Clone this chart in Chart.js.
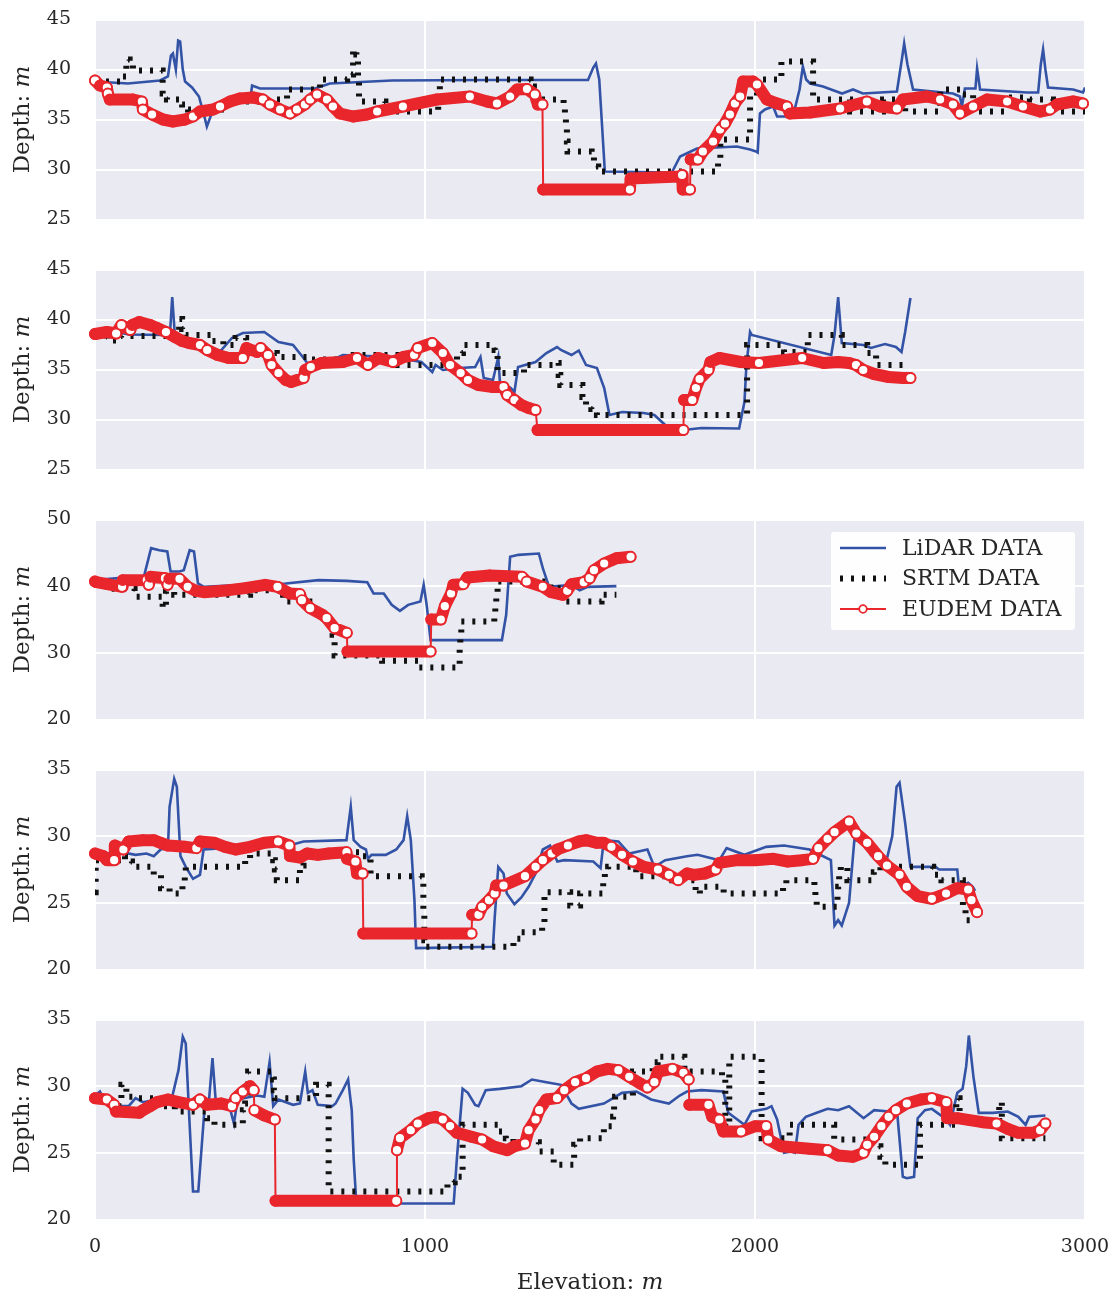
<!DOCTYPE html>
<html><head><meta charset="utf-8">
<script src="https://cdn.jsdelivr.net/npm/chart.js@4.4.1/dist/chart.umd.min.js"></script>
<style>
html,body{margin:0;padding:0;background:#fff;}
#wrap{position:relative;width:1115px;height:1298px;overflow:hidden;}
.panel{position:absolute;left:0;width:1115px;}
canvas{display:block;}
</style></head><body>
<div id="wrap"></div>
<script>
const seriesNames = ['LiDAR DATA', 'SRTM DATA', 'EUDEM DATA'];
const xTicks = [0, 1000, 2000, 3000];
const yMin = [25, 25, 20, 20, 20];
const yMax = [45, 45, 50, 35, 35];
const yStep = [5, 5, 10, 5, 5];
const xTitle = ['Elevation: ', 'm'];
const yTitle = ['Depth: ', 'm'];

// ---- subplot 1 ----
const lidar1 = [[0,38.8],[100,38.6],[197,38.9],[221,39.3],[230,41.4],[236,41.6],[245,40],[252,42.9],[258,42.8],[266,40],[273,38.8],[294,38.2],[315,37.3],[330,35.5],[339,34.3],[358,36],[400,36.8],[440,37],[470,36.8],[476,38.4],[500,38.1],[667,38.1],[712,38.6],[900,38.9],[1200,38.95],[1494,38.95],[1510,40.2],[1518,40.6],[1528,39],[1545,29.8],[1748,29.7],[1773,31.3],[1824,32.1],[1945,32.3],[1985,32],[2003,31.8],[2008,31.7],[2015,35.6],[2030,36],[2055,36.3],[2067,35.3],[2115,35.3],[2135,38],[2145,40.3],[2155,39],[2167,38.6],[2206,38.3],[2264,37.6],[2297,38],[2327,37.6],[2430,37.8],[2445,41],[2452,42.6],[2462,40.5],[2479,38],[2600,37.6],[2621,37.3],[2627,36.3],[2636,38.1],[2668,38.1],[2673,40.1],[2682,38],[2824,37.7],[2858,37.7],[2866,40.5],[2873,42],[2880,40],[2888,38.2],[2964,38],[2994,37.7],[3000,38.2]];
const srtm1 = [[0,38.8],[80,39.3],[95,41],[105,40.5],[115,39.9],[205,37.6],[218,37],[264,36.5],[282,36],[400,36.8],[539,37],[582,38],[682,39],[764,39.5],[782,42],[792,41.5],[797,39.2],[800,36.8],[880,35.8],[1040,37.8],[1045,39],[1320,38.3],[1330,37],[1420,36],[1424,35],[1427,34],[1430,32.8],[1432,31.8],[1505,31.3],[1512,30.3],[1525,29.8],[1888,31],[1895,33],[1985,37.3],[2006,39],[2080,40.8],[2176,37],[2288,35.8],[2388,37],[2455,35.8],[2561,38],[2627,37.5],[2661,35.8],[2764,37.2],[2833,37],[2903,35.8],[3000,35.8]];
const eudem1 = [[0,38.9],[15,38.4],[36,38.2],[39,37.6],[45,37],[115,37],[142,36.8],[145,36],[173,35.5],[206,35],[236,34.8],[273,35],[297,35.3],[318,35.8],[358,36],[379,36.3],[409,36.8],[439,37.1],[479,37.2],[509,37],[530,36.5],[561,36],[591,35.6],[612,36],[636,36.5],[652,37],[673,37.5],[703,37],[721,36.3],[742,35.6],[782,35.3],[824,35.5],[855,35.8],[933,36.3],[1036,37],[1136,37.3],[1188,36.8],[1218,36.6],[1258,37.3],[1279,38],[1309,38.05],[1333,37.5],[1342,36.5],[1356,36.5],[1358,28],[1621,28],[1623,29.1],[1770,29.3],[1779,29.45],[1781,28],[1803,28],[1805,31],[1827,31],[1842,31.8],[1873,32.8],[1894,34],[1909,34.6],[1924,35.5],[1939,36.6],[1955,37.3],[1964,38.8],[1994,38.8],[2006,38.5],[2036,37],[2067,36.6],[2097,36.3],[2106,35.6],[2167,35.7],[2258,36.1],[2339,36.8],[2379,36.3],[2430,36.1],[2448,37],[2521,37.3],[2561,37],[2600,36.5],[2621,35.6],[2661,36.3],[2703,37],[2764,36.8],[2812,36.3],[2864,35.8],[2894,36],[2915,36.5],[2964,36.8],[2994,36.6]];

// ---- subplot 2 ----
const lidar2 = [[0,38.65],[69,38.75],[102,38.5],[210,38.45],[228,39],[234,42.25],[242,38.45],[275,38.25],[318,37.15],[340,36.65],[362,36.45],[383,36.95],[415,38.15],[448,38.65],[513,38.75],[556,37.75],[600,37.45],[632,36.15],[643,35.65],[690,35.5],[751,36.45],[903,36.25],[989,35.75],[1022,34.75],[1032,35.45],[1054,34.95],[1108,35.15],[1152,35.25],[1168,36.25],[1178,34.15],[1206,33.95],[1222,36.25],[1227,33.75],[1260,33.15],[1271,32.75],[1282,35.25],[1335,35.75],[1368,36.65],[1400,37.25],[1412,36.95],[1444,36.45],[1466,36.9],[1488,35.45],[1521,35.15],[1543,33.15],[1559,30.45],[1597,30.75],[1663,30.65],[1695,30.45],[1728,29.45],[1783,28.95],[1838,29.15],[1952,29.1],[1968,31.75],[1974,35.45],[1985,38.75],[1990,38.45],[2231,36.45],[2241,38.45],[2252,42.25],[2263,37.65],[2329,37.45],[2351,37.15],[2394,37.55],[2427,37.25],[2444,36.75],[2455,38.75],[2471,42.15]];
const srtm2 = [[0,38.3],[36,37.9],[79,38.35],[255,40.05],[264,39.05],[275,38.45],[355,37.85],[389,37.45],[426,38.15],[458,36.65],[551,36.25],[650,36],[784,36.45],[915,35.45],[1097,36.65],[1115,37.45],[1211,36.95],[1220,34.65],[1300,35.45],[1400,35.65],[1405,34.45],[1410,33.45],[1477,32.25],[1488,31.45],[1504,31.05],[1521,30.45],[1974,30.45],[1976,37.45],[2088,36.75],[2160,38.45],[2263,37.45],[2340,36.65],[2367,35.45],[2471,35.45]];
const eudem2 = [[0,38.55],[36,38.75],[64,38.6],[80,39.45],[107,38.95],[113,39.45],[134,39.75],[167,39.45],[188,39.15],[215,38.75],[242,38.25],[264,37.85],[285,37.65],[318,37.45],[340,36.95],[372,36.45],[405,36.15],[448,36.15],[459,37.15],[491,36.75],[502,37.15],[524,36.45],[535,35.45],[556,34.65],[578,33.95],[594,33.75],[632,34.15],[637,34.95],[654,35.25],[686,35.65],[751,35.75],[794,36.15],[827,35.45],[859,36.15],[903,35.75],[935,36.25],[967,36.45],[978,37.15],[1022,37.65],[1054,36.65],[1076,35.45],[1108,34.65],[1130,33.95],[1162,33.45],[1206,33.25],[1238,33.25],[1249,32.45],[1271,31.95],[1292,31.45],[1314,31.15],[1335,30.95],[1341,28.95],[1783,28.95],[1785,31.95],[1810,31.95],[1821,33.15],[1832,34.05],[1859,34.95],[1865,35.75],[1892,36.15],[1957,35.75],[2012,35.65],[2143,36.15],[2208,35.65],[2252,35.75],[2285,35.65],[2306,35.45],[2328,34.95],[2361,34.55],[2405,34.25],[2449,34.15],[2471,34.15]];

// ---- subplot 3 ----
const lidar3 = [[0,40.9],[70,41.2],[120,40.8],[145,40.8],[170,45.7],[195,45.4],[219,45.2],[229,42.2],[256,42.2],[269,42.4],[287,45.4],[300,45.2],[312,40.4],[330,39.9],[455,40.2],[578,40.4],[677,40.9],[763,40.8],[825,40.6],[844,38.9],[875,38.9],[899,37.2],[924,36.3],[949,37.2],[986,37.7],[996,40.2],[1005,37.2],[1017,31.9],[1233,31.9],[1246,35.7],[1258,44.4],[1283,44.7],[1345,44.9],[1357,42.7],[1376,39.9],[1444,40.2],[1469,39.4],[1493,39.9],[1580,40.0]];
const srtm3 = [[0,40.4],[30,39.6],[120,38.4],[205,36.7],[215,39.2],[240,38.7],[470,39.4],[570,37.7],[665,35.9],[700,34.7],[720,32.7],[726,29.6],[870,28.8],[980,27.8],[1100,28.2],[1105,31.2],[1107,33],[1110,34.7],[1210,35.7],[1213,37.4],[1216,38.9],[1220,40.7],[1380,39.7],[1420,37.7],[1535,38.7],[1580,38.7]];
const eudem3 = [[0,40.7],[4,40.6],[37,40.3],[82,39.9],[84,40.9],[157,40.9],[163,40.2],[168,41.4],[212,41.2],[220,40.2],[225,41.1],[256,41.1],[281,39.9],[306,39.3],[330,39.1],[405,39.4],[455,39.7],[516,40.2],[553,39.9],[590,38.9],[621,38.8],[627,37.9],[652,36.7],[689,35.7],[702,35.2],[726,33.7],[763,33.0],[765,30.2],[1017,30.2],[1019,35],[1048,35],[1060,37],[1079,38.9],[1086,40.2],[1116,40.3],[1128,41.3],[1196,41.6],[1294,41.4],[1308,40.7],[1357,39.9],[1382,39.1],[1418,38.7],[1431,39.3],[1444,40.3],[1481,40.6],[1499,41.2],[1512,42.4],[1543,43.4],[1580,44.2],[1623,44.4]];

// ---- subplot 4 ----
const lidar4 = [[0,28.5],[36,28.7],[80,28.8],[123,28.6],[156,28.7],[178,28.5],[199,29.0],[221,29.1],[226,32.2],[240,34.3],[248,33.7],[259,28.5],[275,27.7],[297,26.8],[318,27.1],[329,29.0],[450,29.2],[588,29.3],[632,29.6],[762,29.7],[775,32.2],[784,29.7],[805,29.2],[821,29.0],[827,28.3],[838,28.6],[881,28.6],[913,29.0],[935,29.7],[946,31.5],[957,29.7],[968,25.2],[973,21.6],[1206,21.7],[1211,23.8],[1222,27.7],[1238,27.2],[1248,25.7],[1271,24.9],[1292,25.4],[1314,26.2],[1335,27.2],[1357,29.0],[1379,29.3],[1401,28.1],[1422,28.2],[1510,28.1],[1532,27.6],[1542,29.7],[1586,29.6],[1619,28.7],[1674,29.0],[1695,27.7],[1728,28.2],[1794,28.5],[1826,28.6],[1892,28.2],[1914,29.1],[1968,28.6],[2034,29.2],[2088,29.3],[2165,29.0],[2230,28.2],[2241,23.3],[2252,23.7],[2263,23.3],[2285,25.0],[2301,29.7],[2329,29.6],[2351,28.6],[2394,27.7],[2416,30.0],[2429,33.7],[2438,34.0],[2455,31.0],[2471,27.7],[2547,27.7],[2558,27.5],[2613,27.5],[2618,26.2],[2646,26.5],[2660,26.2],[2667,25.9]];
const srtm4 = [[0,25.8],[2,28.2],[80,28.5],[91,28.1],[112,27.7],[178,27.1],[200,26.1],[226,25.7],[265,26.3],[272,27.1],[275,27.7],[455,28.2],[470,28.7],[540,28.2],[545,27.5],[551,26.7],[621,27.8],[632,28.5],[686,28.8],[800,28.5],[835,27.0],[990,26.5],[995,24.5],[998,22.2],[1000,21.7],[1268,22.3],[1290,22.8],[1355,23.5],[1362,25.8],[1440,24.8],[1470,25.7],[1540,26.6],[1545,27.3],[1555,27.7],[1640,27],[1735,26.7],[1820,25.7],[1833,26.2],[1905,25.7],[2085,26.2],[2095,26.7],[2180,26.2],[2183,25.5],[2187,24.7],[2250,25.5],[2252,26.2],[2255,27.1],[2260,27.7],[2280,26.7],[2360,27.3],[2380,27.7],[2540,27.1],[2565,26.7],[2630,24.5],[2638,23.7],[2668,23.7]];
const eudem4 = [[0,28.7],[26,28.5],[36,28.2],[58,28.2],[60,29.3],[86,29.0],[102,29.6],[145,29.7],[178,29.7],[199,29.5],[221,29.3],[275,29.2],[307,29.1],[318,29.6],[362,29.5],[394,29.2],[426,29.0],[470,29.2],[513,29.5],[555,29.6],[589,29.3],[591,28.5],[621,28.4],[643,28.7],[675,28.6],[708,28.7],[762,28.8],[764,28.3],[789,28.1],[794,27.2],[811,27.2],[813,22.7],[1141,22.7],[1143,24.1],[1162,24.1],[1173,24.7],[1194,25.2],[1211,25.7],[1216,26.3],[1238,26.3],[1303,27.0],[1335,27.7],[1357,28.2],[1384,28.7],[1401,29.0],[1433,29.3],[1466,29.6],[1488,29.7],[1521,29.5],[1542,29.5],[1565,29.2],[1597,28.6],[1630,28.1],[1663,27.7],[1706,27.5],[1739,27.1],[1767,26.7],[1794,27.2],[1815,27.1],[1848,27.2],[1881,27.5],[1892,28.0],[1946,28.2],[2001,28.2],[2056,28.3],[2099,28.1],[2143,28.2],[2176,28.3],[2192,29.1],[2220,29.8],[2241,30.3],[2285,31.1],[2307,30.2],[2340,29.5],[2373,28.5],[2400,27.8],[2438,27.1],[2460,26.2],[2493,25.5],[2536,25.3],[2579,25.7],[2613,26.1],[2646,26.0],[2656,25.2],[2673,24.3]];

// ---- subplot 5 ----
const lidar5 = [[0,29.3],[15,29.6],[26,29.0],[58,28.7],[80,28.5],[102,28.5],[123,29.1],[145,28.8],[188,29.0],[232,29.0],[253,31.2],[266,33.7],[275,33.2],[286,27.5],[297,22.1],[313,22.1],[324,25.7],[334,29.0],[345,28.8],[356,32.1],[367,28.5],[405,28.7],[421,27.2],[432,29.0],[491,29.3],[513,29.2],[529,31.8],[540,28.5],[556,29.0],[600,28.6],[621,28.7],[637,31.1],[645,29.5],[659,29.7],[675,28.6],[719,28.5],[729,28.7],[751,29.7],[767,30.5],[778,28.2],[784,24.5],[792,21.2],[1087,21.2],[1097,24.7],[1114,29.8],[1130,29.5],[1152,28.6],[1162,28.5],[1184,29.7],[1227,29.8],[1292,30.0],[1324,30.5],[1368,30.3],[1412,30.1],[1444,28.7],[1466,28.3],[1542,28.7],[1597,29.5],[1641,29.6],[1685,29.0],[1739,28.7],[1772,29.3],[1794,29.6],[1838,29.7],[1904,29.6],[1919,28.0],[1968,27.1],[1990,28.1],[2034,28.3],[2050,28.5],[2067,27.5],[2088,25.0],[2110,25.1],[2121,25.0],[2132,27.1],[2154,27.7],[2187,28.0],[2220,28.3],[2252,28.2],[2285,28.5],[2329,27.6],[2361,28.2],[2405,28.1],[2432,27.7],[2448,23.2],[2460,23.1],[2482,23.2],[2493,27.6],[2515,28.2],[2536,28.3],[2580,27.5],[2591,27.1],[2613,29.5],[2629,29.8],[2640,31.5],[2648,33.8],[2662,30.7],[2678,28.0],[2721,28.0],[2766,28.1],[2798,27.7],[2820,27.1],[2831,27.7],[2880,27.8]];
const srtm5 = [[0,29.2],[26,29.0],[50,28.5],[80,30.1],[95,29.2],[125,29.1],[190,28.5],[242,28.1],[340,27.6],[362,27.1],[448,28.2],[455,28.7],[464,31.1],[540,30.5],[542,29.7],[545,29.1],[670,30.1],[708,22.1],[1068,22.8],[1090,23.2],[1114,27.1],[1222,26.6],[1245,26.1],[1268,25.6],[1300,25.8],[1345,25.1],[1390,24.1],[1452,25.6],[1470,26.1],[1542,27.0],[1570,27.7],[1573,28.5],[1576,29.2],[1630,31.1],[1690,31.8],[1705,32.2],[1786,31.3],[1800,31.1],[1900,30.8],[1910,27.0],[1922,32.2],[2020,26.1],[2105,27.1],[2240,26.0],[2370,25.5],[2380,24.7],[2395,24.1],[2500,27.1],[2610,29.1],[2620,27.3],[2740,28.8],[2748,26.1],[2880,26.1]];
const eudem5 = [[0,29.1],[36,29.0],[58,28.6],[64,28.1],[134,28.0],[145,28.2],[167,28.5],[188,28.8],[221,29.0],[253,28.8],[297,28.6],[318,29.0],[340,28.6],[383,28.7],[415,28.5],[426,29.1],[448,29.6],[470,30.0],[481,29.7],[483,28.2],[513,27.8],[545,27.5],[547,21.4],[913,21.4],[915,25.2],[924,26.1],[957,26.7],[978,27.2],[1011,27.6],[1032,27.7],[1054,27.5],[1076,27.0],[1097,26.5],[1141,26.2],[1173,26.0],[1206,25.5],[1249,25.2],[1271,25.5],[1303,25.7],[1314,26.7],[1335,27.5],[1346,28.2],[1368,29.0],[1400,29.1],[1422,29.7],[1455,30.3],[1488,30.6],[1521,31.1],[1554,31.3],[1586,31.2],[1619,30.7],[1652,30.2],[1674,29.9],[1695,30.3],[1706,31.1],[1750,31.3],[1783,31.0],[1799,30.5],[1801,28.6],[1859,28.6],[1870,27.7],[1892,27.5],[1904,26.6],[1958,26.6],[2001,27.0],[2034,27.0],[2040,26.0],[2078,25.5],[2165,25.3],[2220,25.2],[2252,24.8],[2296,24.7],[2329,25.0],[2340,25.6],[2361,26.2],[2383,27.0],[2405,27.7],[2427,28.2],[2460,28.7],[2503,29.0],[2536,29.1],[2580,28.8],[2582,27.6],[2613,27.6],[2689,27.3],[2732,27.2],[2766,26.8],[2798,26.5],[2842,26.5],[2864,26.7],[2880,27.2]];

const lidarSets = [lidar1, lidar2, lidar3, lidar4, lidar5];
const srtmSets = [srtm1, srtm2, srtm3, srtm4, srtm5];
const eudemSets = [eudem1, eudem2, eudem3, eudem4, eudem5];

const RED = '#e8262c', BLUE = '#3353a6', BLACK = '#111111', TXT = '#262626';
const FONT = '"DejaVu Serif", "Liberation Serif", serif';

function toXY(a) { return a.map(p => ({ x: p[0], y: p[1] })); }

const bgPlugin = {
  id: 'bg',
  beforeDraw(c) {
    const a = c.chartArea, ctx = c.ctx;
    ctx.save(); ctx.fillStyle = '#eaeaf2';
    ctx.fillRect(a.left, a.top, a.right - a.left, a.bottom - a.top);
    ctx.restore();
  }
};

function drawParts(ctx, parts, cx, cy, rot) {
  ctx.save(); ctx.translate(cx, cy); if (rot) ctx.rotate(-Math.PI / 2);
  let w = 0;
  parts.forEach(p => { ctx.font = p.f; w += ctx.measureText(p.t).width; });
  let x = -w / 2;
  ctx.textBaseline = 'middle'; ctx.textAlign = 'left'; ctx.fillStyle = TXT;
  parts.forEach(p => { ctx.font = p.f; ctx.fillText(p.t, x, 0); x += ctx.measureText(p.t).width; });
  ctx.restore();
}

const titlePlugin = {
  id: 'ttl',
  afterDraw(c, args, opts) {
    const a = c.chartArea, ctx = c.ctx;
    drawParts(ctx, [{ t: yTitle[0], f: '23px ' + FONT }, { t: yTitle[1], f: 'italic 23px ' + FONT }], 23, (a.top + a.bottom) / 2, true);
    if (opts.x) {
      drawParts(ctx, [{ t: xTitle[0], f: '23px ' + FONT }, { t: xTitle[1], f: 'italic 23px ' + FONT }], (a.left + a.right) / 2, 283, false);
    }
  }
};

const legendPlugin = {
  id: 'lg',
  afterDraw(c, args, opts) {
    if (!opts.show) return;
    const ctx = c.ctx, a = c.chartArea;
    const L = a.right - 254, T = a.top + 12.5, W = 244, H = 98;
    ctx.save();
    ctx.fillStyle = 'rgba(255,255,255,0.95)';
    ctx.beginPath();
    if (ctx.roundRect) ctx.roundRect(L, T, W, H, 3); else ctx.rect(L, T, W, H);
    ctx.fill();
    const rows = [T + 16, T + 46.5, T + 77];
    const x0 = L + 9, x1 = L + 55;
    ctx.strokeStyle = BLUE; ctx.lineWidth = 2.6; ctx.setLineDash([]);
    ctx.beginPath(); ctx.moveTo(x0, rows[0]); ctx.lineTo(x1, rows[0]); ctx.stroke();
    ctx.strokeStyle = BLACK; ctx.lineWidth = 6; ctx.setLineDash([3, 8]);
    ctx.beginPath(); ctx.moveTo(x0, rows[1]); ctx.lineTo(x1, rows[1]); ctx.stroke();
    ctx.setLineDash([]); ctx.strokeStyle = RED; ctx.lineWidth = 2;
    ctx.beginPath(); ctx.moveTo(x0, rows[2]); ctx.lineTo(x1, rows[2]); ctx.stroke();
    ctx.fillStyle = '#fff'; ctx.lineWidth = 1.8;
    ctx.beginPath(); ctx.arc((x0 + x1) / 2, rows[2], 3.8, 0, Math.PI * 2); ctx.fill(); ctx.stroke();
    ctx.fillStyle = TXT; ctx.font = '22px ' + FONT; ctx.textBaseline = 'middle'; ctx.textAlign = 'left';
    seriesNames.forEach((n, i) => ctx.fillText(n, L + 71, rows[i] + 1));
    ctx.restore();
  }
};

const whiteRule = (ctx) => {
  const d = ctx.dataset.data, i = ctx.dataIndex;
  if (i === undefined || i >= d.length - 1) return '#ffffff';
  const ys = ctx.chart.scales.y;
  const dy = Math.abs(ys.getPixelForValue(d[i + 1].y) - ys.getPixelForValue(d[i].y));
  return dy > 4 ? '#ffffff' : RED;
};
const bandRule = (ctx) => (Math.abs(ctx.p1.y - ctx.p0.y) > 16 && Math.abs(ctx.p1.x - ctx.p0.x) < 8) ? 2 : 12;

const wrap = document.getElementById('wrap');

function makeChart(idx) {
  const last = idx === 4;
  const H = last ? 298 : 250;
  const div = document.createElement('div');
  div.className = 'panel'; div.style.top = (idx * 250) + 'px'; div.style.height = H + 'px';
  const cv = document.createElement('canvas'); cv.width = 1115; cv.height = H;
  cv.style.width = '1115px'; cv.style.height = H + 'px';
  div.appendChild(cv); wrap.appendChild(div);
  new Chart(cv, {
    type: 'line',
    data: {
      datasets: [
        { label: seriesNames[0], data: toXY(lidarSets[idx]), borderColor: BLUE, borderWidth: 2.6, pointRadius: 0, order: 2, fill: false },
        { label: seriesNames[1], data: toXY(srtmSets[idx]), borderColor: BLACK, borderWidth: 6, borderDash: [3, 8], stepped: true, pointRadius: 0, order: 1, fill: false },
        { label: seriesNames[2], data: toXY(eudemSets[idx]), borderColor: RED, borderWidth: 2, borderCapStyle: 'round', borderJoinStyle: 'round',
          pointRadius: 5, pointBorderWidth: 1.8, pointBorderColor: RED, pointBackgroundColor: whiteRule,
          segment: { borderWidth: bandRule }, order: 0, clip: false, fill: false }
      ]
    },
    options: {
      responsive: false, animation: false, events: [],
      layout: { autoPadding: false, padding: { left: 0, right: 30, top: 19.5, bottom: last ? 18.5 : 30.5 } },
      scales: {
        x: {
          type: 'linear', min: xTicks[0], max: xTicks[xTicks.length - 1],
          afterBuildTicks(s) { s.ticks = xTicks.map(v => ({ value: v })); },
          ticks: { display: last, padding: 16, maxRotation: 0, autoSkip: false, font: { family: FONT, size: 19 }, color: TXT,
                   callback: (v) => String(v) },
          grid: { color: '#ffffff', lineWidth: 2, drawTicks: false },
          border: { display: false },
          afterFit(s) { s.height = last ? 60 : 0; s.paddingLeft = 0; s.paddingRight = 0; s.paddingTop = 0; s.paddingBottom = 0; }
        },
        y: {
          min: yMin[idx], max: yMax[idx],
          ticks: { stepSize: yStep[idx], padding: 24, font: { family: FONT, size: 19 }, color: TXT, callback: (v) => String(v) },
          grid: { color: '#ffffff', lineWidth: 2, drawTicks: false },
          border: { display: false },
          afterFit(s) { s.width = 95; s.paddingTop = 0; s.paddingBottom = 0; s.paddingLeft = 0; s.paddingRight = 0; }
        }
      },
      plugins: { legend: { display: false }, tooltip: { enabled: false }, lg: { show: idx === 2 }, ttl: { x: last } }
    },
    plugins: [bgPlugin, titlePlugin, legendPlugin]
  });
}
for (let i = 0; i < 5; i++) makeChart(i);
</script>
</body></html>
